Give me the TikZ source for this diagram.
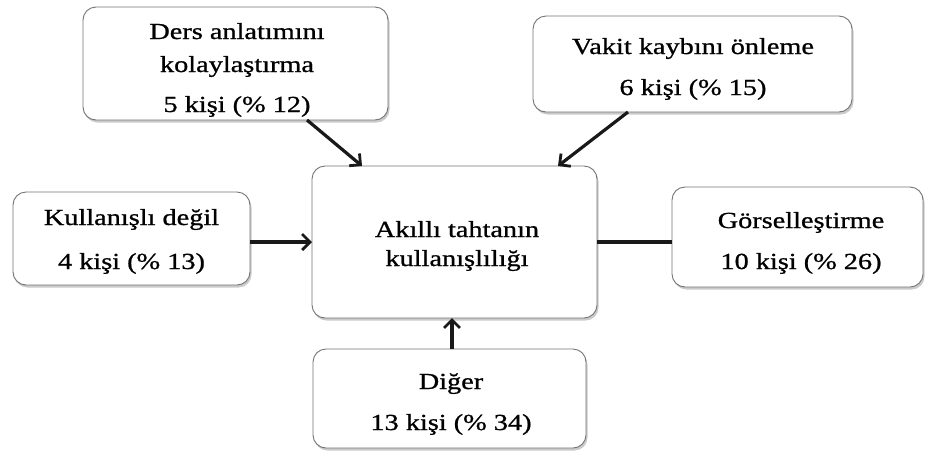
\documentclass[tikz,border=0pt]{standalone}
\usepackage{fontspec}
\setmainfont{Liberation Serif}[FakeStretch=1.23, FakeBold=0.9]
\usetikzlibrary{shadows,arrows.meta,calc}
\begin{document}
\begin{tikzpicture}[x=1pt,y=-1pt,
  box/.style={draw=black!55, line width=0.9pt, fill=white, rounded corners=13pt,
    inner sep=0pt, outer sep=0pt,
    drop shadow={shadow xshift=1.5pt, shadow yshift=-2.5pt, opacity=0.35, fill=black!60}},
  txt/.style={anchor=base, inner sep=0pt, font=\fontsize{23}{28}\selectfont, text=black},
  conn/.style={line width=3.2pt, draw=black!90},
  arr/.style={conn, -{Straight Barb[length=8pt,width=16pt,line width=2.8pt]}}]
\path[use as bounding box] (0,0) rectangle (925,456);
% boxes
\node[box, minimum width=305pt, minimum height=113pt] (ders) at (235.5,63.5) {};
\node[box, minimum width=319pt, minimum height=96pt] (vak) at (692.5,64) {};
\node[box, minimum width=237pt, minimum height=93pt] (kul) at (131.5,238.5) {};
\node[box, minimum width=285pt, minimum height=152pt] (ctr) at (454.5,242) {};
\node[box, minimum width=251pt, minimum height=100pt] (gor) at (797.5,237) {};
\node[box, minimum width=273pt, minimum height=99pt] (dig) at (449.5,398.5) {};
% texts
\node[txt] (ders1) at (237,39) {Ders anlatımını};
\node[txt] (ders2) at (237,72) {kolaylaştırma};
\node[txt] (ders3) at (237,112) {5 kişi (\% 12)};
\node[txt] (vak1) at (693,54) {Vakit kaybını önleme};
\node[txt] (vak2) at (693,95) {6 kişi (\% 15)};
\node[txt] (kul1) at (131.5,225) {Kullanışlı değil};
\node[txt] (kul2) at (131.5,269) {4 kişi (\% 13)};
\node[txt] (ctr1) at (457,237) {Akıllı tahtanın};
\node[txt] (ctr2) at (457,266) {kullanışlılığı};
\node[txt] (gor1) at (801,228) {Görselleştirme};
\node[txt] (gor2) at (801,269) {10 kişi (\% 26)};
\node[txt] (dig1) at (451,389) {Diğer};
\node[txt] (dig2) at (451,430) {13 kişi (\% 34)};
% connectors
\draw[arr] ([xshift=71.5pt]ders.south) -- ([xshift=-92.5pt]ctr.north);
\draw[arr] ([xshift=-64.5pt]vak.south) -- ([xshift=103.5pt]ctr.north);
\draw[arr] (kul.east |- ctr.west) -- (ctr.west);
\draw[conn] (ctr.east) -- (ctr.east -| gor.west);
\draw[arr] ([xshift=2.5pt]dig.north) -- ([xshift=2.5pt]dig.north |- ctr.south);
\end{tikzpicture}
\end{document}
